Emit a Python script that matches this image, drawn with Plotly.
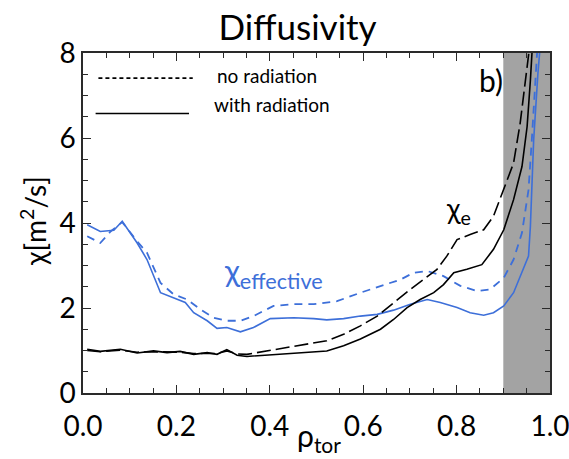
import plotly.graph_objects as go

# chi_effective, with radiation (blue solid)
eff_rad_x = [0.009, 0.037, 0.066, 0.084, 0.116, 0.137, 0.166, 0.194, 0.219, 0.237, 0.266, 0.287, 0.308, 0.337,
             0.365, 0.401, 0.451, 0.494, 0.522, 0.558, 0.594, 0.630, 0.665, 0.701, 0.737, 0.765, 0.801, 0.829,
             0.858, 0.879, 0.901, 0.922, 0.940, 0.954, 0.958, 0.965, 0.974, 0.980]
eff_rad_y = [3.96, 3.80, 3.83, 4.04, 3.53, 3.14, 2.36, 2.24, 2.13, 1.89, 1.70, 1.52, 1.54, 1.44,
             1.54, 1.75, 1.77, 1.75, 1.72, 1.75, 1.81, 1.85, 1.95, 2.09, 2.20, 2.13, 2.01, 1.89,
             1.83, 1.89, 2.05, 2.36, 2.83, 3.22, 3.92, 5.95, 7.50, 8.30]

# chi_effective, no radiation (blue dashed)
eff_norad_x = [0.009, 0.037, 0.059, 0.084, 0.116, 0.137, 0.166, 0.194, 0.223, 0.251, 0.280, 0.308, 0.337, 0.365,
               0.408, 0.451, 0.494, 0.544, 0.594, 0.637, 0.680, 0.708, 0.737, 0.772, 0.808, 0.844, 0.872,
               0.901, 0.922, 0.940, 0.954, 0.961, 0.969, 0.974]
eff_norad_y = [3.69, 3.53, 3.80, 4.02, 3.57, 3.30, 2.59, 2.32, 2.20, 1.97, 1.77, 1.70, 1.70, 1.81,
               2.05, 2.09, 2.09, 2.16, 2.36, 2.52, 2.67, 2.83, 2.87, 2.75, 2.52, 2.40, 2.44,
               2.71, 3.14, 3.77, 4.78, 5.95, 7.50, 8.30]

# chi_e, with radiation (black solid)
e_rad_x = [0.009, 0.037, 0.080, 0.116, 0.151, 0.180, 0.208, 0.237, 0.266, 0.287, 0.308, 0.330, 0.351, 0.380,
           0.423, 0.465, 0.522, 0.558, 0.594, 0.637, 0.665, 0.694, 0.722, 0.751, 0.772, 0.794, 0.822, 0.854,
           0.879, 0.901, 0.922, 0.940, 0.951, 0.958, 0.963]
e_rad_y = [1.03, 0.98, 1.03, 0.94, 0.99, 0.95, 0.98, 0.91, 0.95, 0.91, 1.02, 0.89, 0.86, 0.88,
           0.91, 0.94, 0.99, 1.11, 1.27, 1.50, 1.73, 2.01, 2.20, 2.36, 2.55, 2.83, 2.91, 3.02,
           3.38, 3.84, 4.55, 5.33, 6.27, 7.36, 8.30]

# chi_e, no radiation (black dashed)
e_norad_x = [0.009, 0.037, 0.080, 0.116, 0.151, 0.180, 0.208, 0.237, 0.266, 0.287, 0.308, 0.330, 0.351, 0.394,
             0.437, 0.480, 0.522, 0.558, 0.594, 0.630, 0.665, 0.701, 0.729, 0.758, 0.779, 0.801, 0.829,
             0.858, 0.879, 0.901, 0.922, 0.936, 0.947, 0.954, 0.958]
e_norad_y = [1.00, 0.97, 1.01, 0.96, 0.97, 0.97, 0.96, 0.93, 0.94, 0.93, 0.99, 0.92, 0.91, 0.99,
             1.07, 1.15, 1.23, 1.38, 1.58, 1.81, 2.13, 2.44, 2.67, 2.91, 3.22, 3.61, 3.73,
             3.84, 4.16, 4.78, 5.41, 6.34, 7.36, 8.06, 8.30]

x_tickvals = [0.0, 0.2, 0.4, 0.6, 0.8, 1.0]
x_ticktext = ["0.0", "0.2", "0.4", "0.6", "0.8", "1.0"]
y_tickvals = [0, 2, 4, 6, 8]
y_ticktext = ["0", "2", "4", "6", "8"]

BLUE = "#3d6fd9"
FONT = "Lato, 'Noto Sans', sans-serif"
AXC = "#2a2a2a"

fig = go.Figure()
fig.add_trace(go.Scatter(x=eff_norad_x, y=eff_norad_y, mode="lines",
                         line=dict(color=BLUE, width=1.8, dash="8px,6px"), showlegend=False))
fig.add_trace(go.Scatter(x=eff_rad_x, y=eff_rad_y, mode="lines",
                         line=dict(color=BLUE, width=1.6), showlegend=False))
fig.add_trace(go.Scatter(x=e_norad_x, y=e_norad_y, mode="lines",
                         line=dict(color="black", width=1.6, dash="14px,5px"), showlegend=False))
fig.add_trace(go.Scatter(x=e_rad_x, y=e_rad_y, mode="lines",
                         line=dict(color="black", width=1.6), showlegend=False))

# shaded edge region
fig.add_shape(type="rect", xref="x", yref="paper", x0=0.9, x1=1.0, y0=0, y1=1,
              fillcolor="#a3a3a3", line=dict(width=0), layer="below")

# legend lines
fig.add_shape(type="line", xref="paper", yref="paper", x0=0.033, x1=0.235, y0=0.926, y1=0.926,
              line=dict(color="black", width=1.6, dash="4px,3px"))
fig.add_shape(type="line", xref="paper", yref="paper", x0=0.027, x1=0.227, y0=0.822, y1=0.822,
              line=dict(color="black", width=1.6))
fig.add_annotation(xref="paper", yref="paper", x=0.283, y=0.935, text="no radiation", showarrow=False,
                   xanchor="left", yanchor="middle", font=dict(family=FONT, size=19, color="black"))
fig.add_annotation(xref="paper", yref="paper", x=0.277, y=0.848, text="with radiation", showarrow=False,
                   xanchor="left", yanchor="middle", font=dict(family=FONT, size=19, color="black"))
fig.add_annotation(xref="paper", yref="paper", x=0.874, y=0.922, text="b)", showarrow=False,
                   xanchor="center", yanchor="middle", font=dict(family=FONT, size=30, color="black"))
fig.add_annotation(xref="x", yref="y", x=0.803, y=4.31, text="χ<sub>e</sub>", showarrow=False,
                   xanchor="center", yanchor="middle", font=dict(family=FONT, size=28, color="black"))
fig.add_annotation(xref="x", yref="y", x=0.407, y=2.83, text="χ<sub>effective</sub>", showarrow=False,
                   xanchor="center", yanchor="middle", font=dict(family=FONT, size=31, color=BLUE))

# axis titles
fig.add_annotation(xref="paper", yref="paper", x=0.505, y=-0.13, text="ρ<sub>tor</sub>", showarrow=False,
                   xanchor="center", yanchor="middle", font=dict(family=FONT, size=30, color="black"))
fig.add_annotation(xref="paper", yref="paper", x=-0.105, y=0.506, text="χ[m<sup>2</sup>/s]", showarrow=False,
                   xanchor="center", yanchor="middle", textangle=-90,
                   font=dict(family=FONT, size=28, color="black"))

fig.update_layout(
    width=569, height=459,
    margin=dict(l=83, r=19, t=53, b=66, autoexpand=False),
    paper_bgcolor="white", plot_bgcolor="white",
    title=dict(text="Diffusivity", x=0.523, xanchor="center", y=0.939, yanchor="middle",
               font=dict(family=FONT, size=35, color="black")),
    font=dict(family=FONT, color="black"),
)
fig.update_xaxes(range=[0, 1], tickvals=x_tickvals, ticktext=x_ticktext,
                 showline=True, linecolor=AXC, linewidth=1.5, mirror="ticks",
                 ticks="inside", ticklen=8, tickcolor=AXC, tickwidth=1.2,
                 minor=dict(dtick=0.05, ticks="inside", ticklen=5, tickcolor=AXC),
                 showgrid=False, zeroline=False, ticklabelstandoff=8,
                 ticklabeloverflow="allow", automargin=False,
                 tickfont=dict(family=FONT, size=28, color="black"))
fig.update_yaxes(range=[0, 8], tickvals=y_tickvals, ticktext=y_ticktext,
                 showline=True, linecolor=AXC, linewidth=1.5, mirror="ticks",
                 ticks="inside", ticklen=8, tickcolor=AXC, tickwidth=1.2,
                 minor=dict(dtick=0.5, ticks="inside", ticklen=5, tickcolor=AXC),
                 showgrid=False, zeroline=False, ticklabeloverflow="allow", automargin=False,
                 tickfont=dict(family=FONT, size=28, color="black"))

fig.write_html("out.html")
